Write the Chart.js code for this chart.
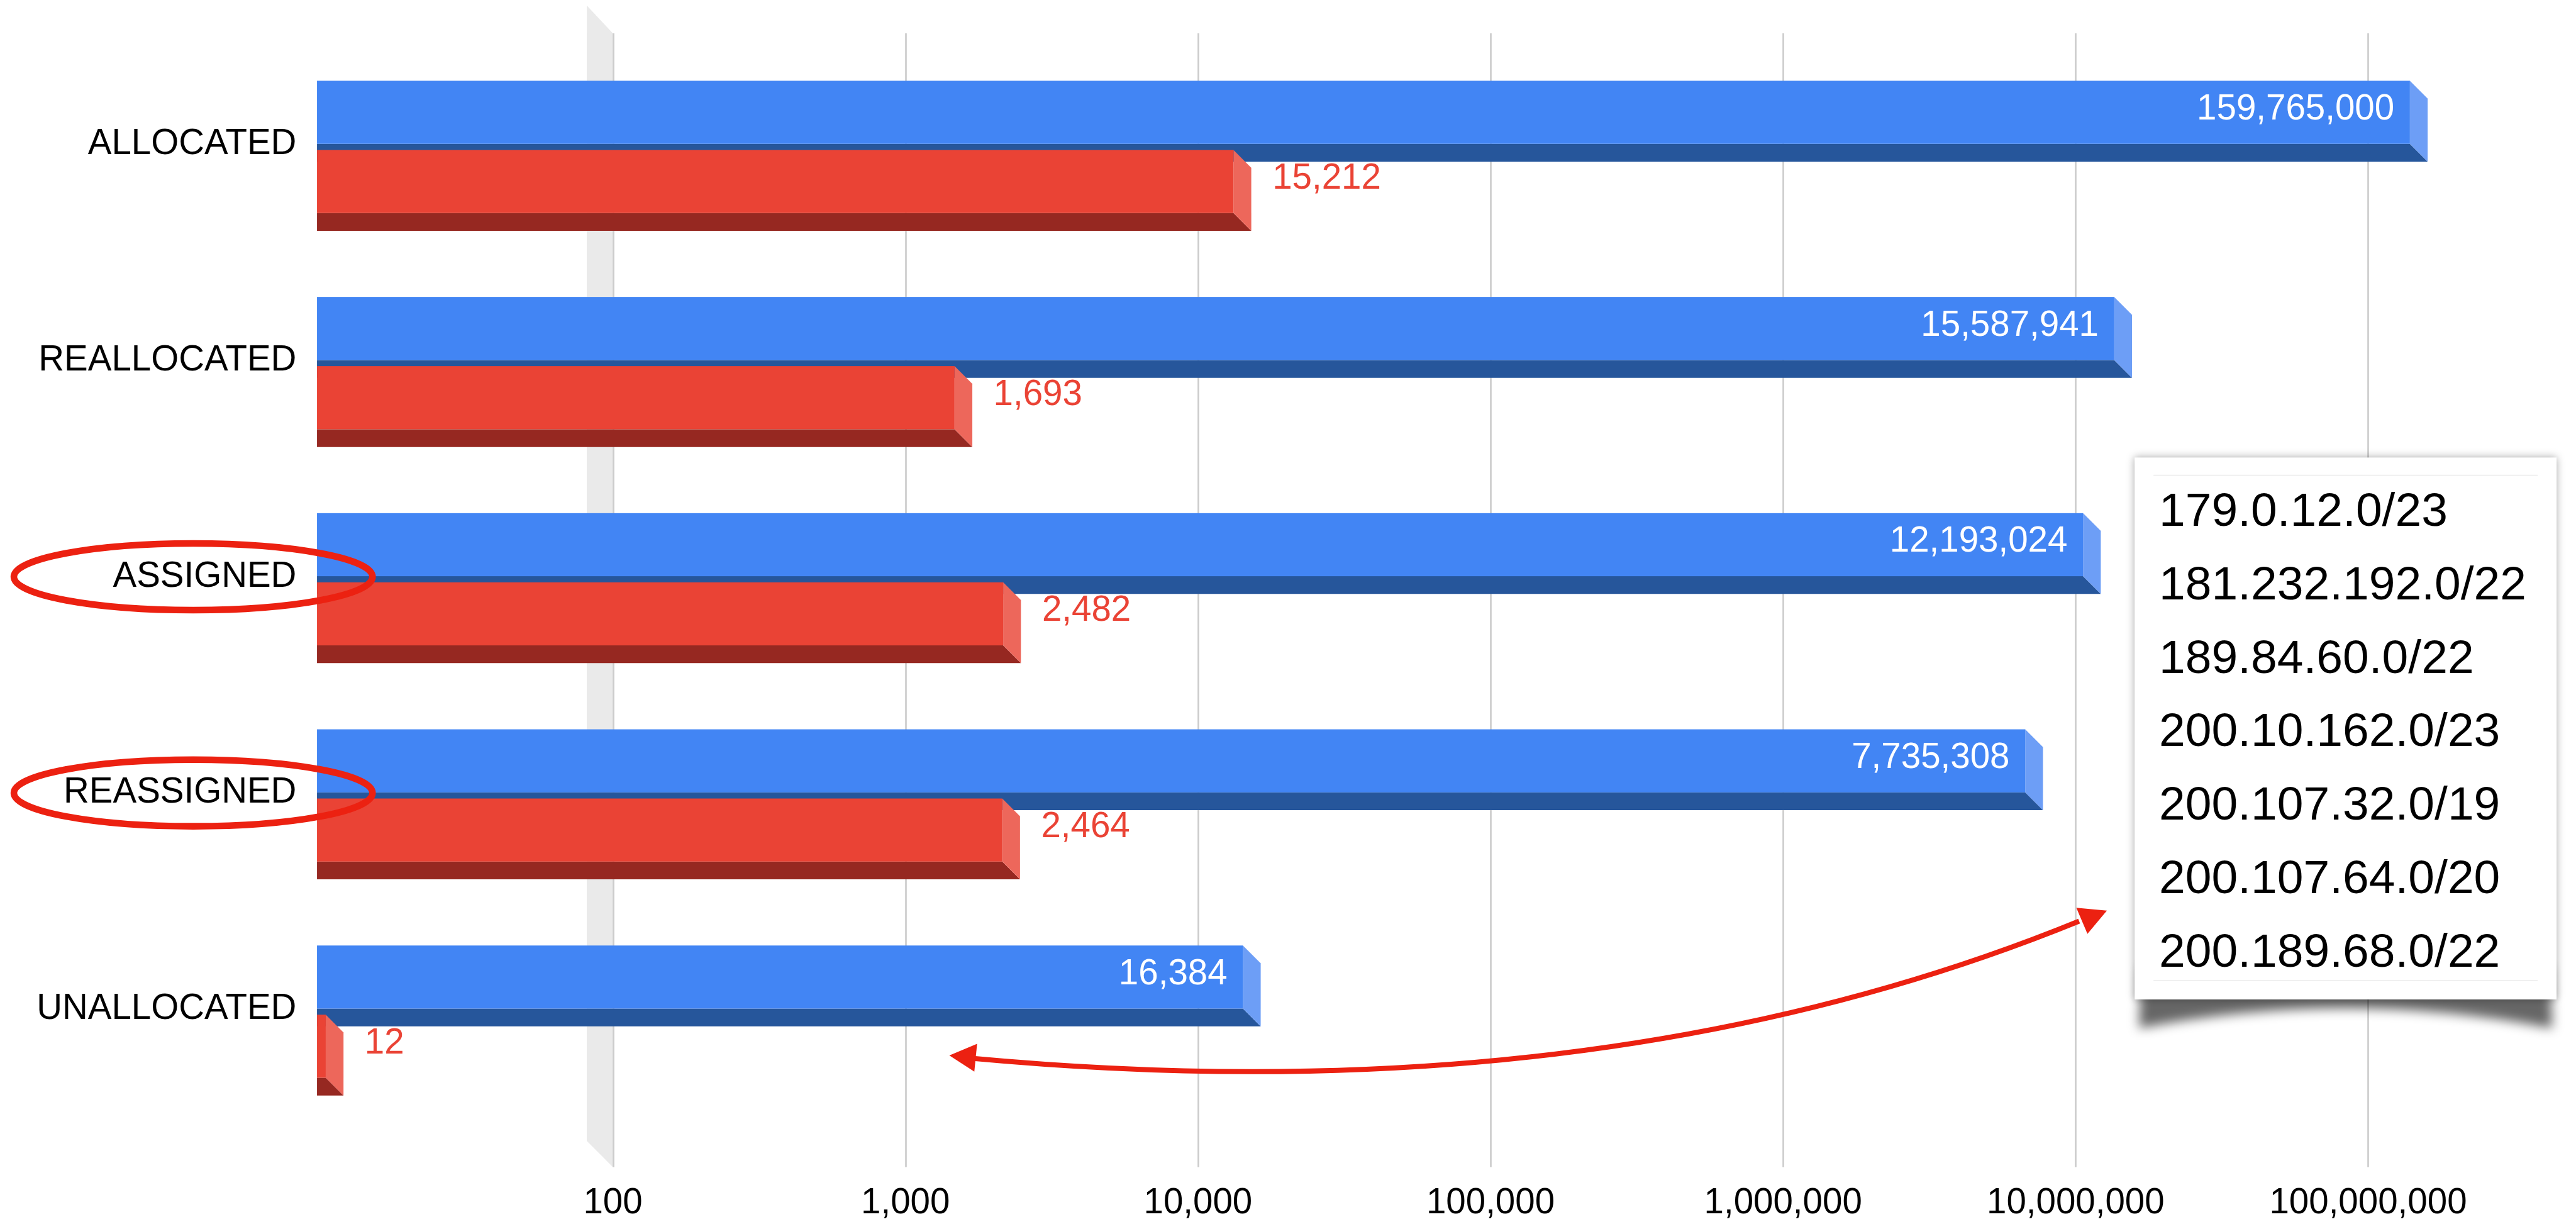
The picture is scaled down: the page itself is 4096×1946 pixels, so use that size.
<!DOCTYPE html>
<html>
<head>
<meta charset="utf-8">
<script src="https://cdn.jsdelivr.net/npm/chart.js@4.4.1/dist/chart.umd.min.js"></script>
<style>
  html, body { margin: 0; padding: 0; background: #fff; }
  #wrap { width: 4096px; height: 1946px; }
</style>
</head>
<body>
<div id="wrap"><canvas id="barCanvas"></canvas></div>
<script>
const categories = ["ALLOCATED", "REALLOCATED", "ASSIGNED", "REASSIGNED", "UNALLOCATED"];
const blueValues = [159765000, 15587941, 12193024, 7735308, 16384];
const redValues = [15212, 1693, 2482, 2464, 12];
const tickValues = [100, 1000, 10000, 100000, 1000000, 10000000, 100000000];
const circled = ["ASSIGNED", "REASSIGNED"];
const prefixes = [
  "179.0.12.0/23",
  "181.232.192.0/22",
  "189.84.60.0/22",
  "200.10.162.0/23",
  "200.107.32.0/19",
  "200.107.64.0/20",
  "200.189.68.0/22"
];

// everything below is measured on the 4640px reference, then scaled
const S = 4096 / 4640;
const px = v => v * S;

const FONT = "'Liberation Sans', Arial, sans-serif";
const DEPTH = px(32);
const FRONT_GAP = px(11);
const LABEL_SHIFT = px(-10);

const blueColors = { front: "#4285f4", bottom: "#26569b", side: "#6d9ef6" };
const redColors = { front: "#ea4335", bottom: "#962821", side: "#ed675b" };

const fmt = v => Number(v).toLocaleString("en-US");

function drawBar3d(ctx, bar, colors) {
  const p = bar.getProps(["x", "y", "base", "height"], true);
  const top = p.y - p.height / 2;
  const frontH = p.height - FRONT_GAP;
  const bottom = top + frontH;
  const left = p.base;
  const right = p.x - DEPTH;

  ctx.fillStyle = colors.bottom;
  ctx.beginPath();
  ctx.moveTo(left, bottom);
  ctx.lineTo(right, bottom);
  ctx.lineTo(p.x, bottom + DEPTH);
  ctx.lineTo(left, bottom + DEPTH);
  ctx.closePath();
  ctx.fill();

  ctx.fillStyle = colors.side;
  ctx.beginPath();
  ctx.moveTo(right, top);
  ctx.lineTo(p.x, top + DEPTH);
  ctx.lineTo(p.x, bottom + DEPTH);
  ctx.lineTo(right, bottom);
  ctx.closePath();
  ctx.fill();

  ctx.fillStyle = colors.front;
  ctx.fillRect(left, top, right - left, frontH);
  return { top, right, x: p.x };
}

const backdrop = {
  id: "backdrop",
  beforeDatasetsDraw(chart) {
    const ctx = chart.ctx;
    const xs = chart.scales.x;
    const x0 = xs.getPixelForValue(tickValues[0]);
    ctx.save();
    // grey wall behind the first gridline
    ctx.fillStyle = "#eaeaea";
    ctx.beginPath();
    ctx.moveTo(x0 - px(47), px(10));
    ctx.lineTo(x0, px(60));
    ctx.lineTo(x0, px(2102));
    ctx.lineTo(x0 - px(47), px(2055));
    ctx.closePath();
    ctx.fill();
    ctx.strokeStyle = "#cccccc";
    ctx.lineWidth = px(3);
    tickValues.forEach(v => {
      const x = Math.round(xs.getPixelForValue(v)) + 0.5;
      ctx.beginPath();
      ctx.moveTo(x, px(60));
      ctx.lineTo(x, px(2102));
      ctx.stroke();
    });
    ctx.restore();
  }
};

const bars3d = {
  id: "bars3d",
  afterDatasetsDraw(chart) {
    const ctx = chart.ctx;
    ctx.save();
    ctx.font = `${px(64)}px ${FONT}`;
    ctx.textBaseline = "middle";
    chart.getDatasetMeta(0).data.forEach((bar, i) => {
      const b = drawBar3d(ctx, bar, blueColors);
      ctx.fillStyle = "#ffffff";
      ctx.textAlign = "right";
      ctx.fillText(fmt(blueValues[i]), b.right - px(28), b.top + px(52));
    });
    chart.getDatasetMeta(1).data.forEach((bar, i) => {
      const b = drawBar3d(ctx, bar, redColors);
      ctx.fillStyle = redColors.front;
      ctx.textAlign = "left";
      ctx.fillText(fmt(redValues[i]), b.x + px(38), b.top + px(52));
    });
    ctx.restore();
  }
};

const notes = {
  id: "notes",
  afterDraw(chart) {
    const ctx = chart.ctx;
    const ys = chart.scales.y;
    ctx.save();

    // ellipses round two category labels
    ctx.strokeStyle = "#ec2111";
    ctx.lineWidth = px(12);
    circled.forEach(name => {
      const cy = ys.getPixelForValue(categories.indexOf(name)) + LABEL_SHIFT;
      ctx.beginPath();
      ctx.ellipse(px(348), cy, px(323), px(60), 0, 0, Math.PI * 2);
      ctx.stroke();
    });

    // curved double arrow
    ctx.lineWidth = px(9);
    ctx.beginPath();
    ctx.moveTo(px(1750), px(1906));
    ctx.quadraticCurveTo(px(2882), px(2011), px(3745), px(1659));
    ctx.stroke();
    ctx.fillStyle = "#ec2111";
    [[[1710, 1901], [1760, 1880], [1755, 1930]],
     [[3795, 1640], [3740, 1635], [3760, 1682]]].forEach(tri => {
      ctx.beginPath();
      tri.forEach(([x, y], k) => k ? ctx.lineTo(px(x), px(y)) : ctx.moveTo(px(x), px(y)));
      ctx.closePath();
      ctx.fill();
    });

    // note card with curled shadow
    const L = px(3845), T = px(824), R = px(4605), B = px(1800);
    ctx.save();
    ctx.filter = `blur(${px(10)}px)`;
    ctx.fillStyle = "rgba(0,0,0,0.6)";
    ctx.beginPath();
    ctx.moveTo(L + px(12), B - px(60));
    ctx.lineTo(L + px(8), B + px(52));
    ctx.quadraticCurveTo((L + R) / 2, B - px(20), R - px(8), B + px(52));
    ctx.lineTo(R - px(12), B - px(60));
    ctx.closePath();
    ctx.fill();
    ctx.restore();

    ctx.save();
    ctx.shadowColor = "rgba(0,0,0,0.35)";
    ctx.shadowBlur = px(14);
    ctx.fillStyle = "#ffffff";
    ctx.fillRect(L, T, R - L, B - T);
    ctx.restore();

    ctx.strokeStyle = "#eeeeee";
    ctx.lineWidth = px(2);
    [856, 1766].forEach(y => {
      ctx.beginPath();
      ctx.moveTo(px(3879), px(y));
      ctx.lineTo(px(4571), px(y));
      ctx.stroke();
    });

    ctx.fillStyle = "#000000";
    ctx.font = `${px(85)}px ${FONT}`;
    ctx.textAlign = "left";
    ctx.textBaseline = "alphabetic";
    prefixes.forEach((t, i) => ctx.fillText(t, px(3889), px(947 + i * 132.3)));

    ctx.restore();
  }
};

Chart.defaults.font.family = FONT;
Chart.defaults.color = "#000000";

const barCanvas = document.getElementById("barCanvas");

const barChart = new Chart(barCanvas, {
  type: "bar",
  data: {
    labels: categories,
    datasets: [
      { data: blueValues, backgroundColor: "rgba(0,0,0,0)", borderWidth: 0 },
      { data: redValues, backgroundColor: "rgba(0,0,0,0)", borderWidth: 0 }
    ]
  },
  plugins: [backdrop, bars3d, notes],
  options: {
    indexAxis: "y",
    animation: false,
    responsive: true,
    maintainAspectRatio: false,
    devicePixelRatio: 1,
    barPercentage: 1,
    categoryPercentage: 0.64,
    layout: {
      padding: { top: px(68.7), right: px(123), bottom: 0, left: 0 }
    },
    plugins: {
      legend: { display: false },
      tooltip: { enabled: false }
    },
    scales: {
      x: {
        type: "logarithmic",
        min: 9.74,
        max: 3e8,
        grid: { display: false, drawTicks: false },
        border: { display: false },
        afterBuildTicks: axis => {
          axis.ticks = tickValues.map(v => ({ value: v }));
        },
        afterFit: axis => { axis.height = px(182.3); },
        ticks: {
          autoSkip: false,
          maxRotation: 0,
          padding: px(106.5),
          font: { size: px(64) },
          callback: v => fmt(v)
        }
      },
      y: {
        grid: { display: false, drawTicks: false },
        border: { display: false },
        afterFit: axis => { axis.width = px(571); },
        ticks: {
          padding: px(37),
          labelOffset: LABEL_SHIFT,
          font: { size: px(64) }
        }
      }
    }
  }
});
</script>
</body>
</html>
